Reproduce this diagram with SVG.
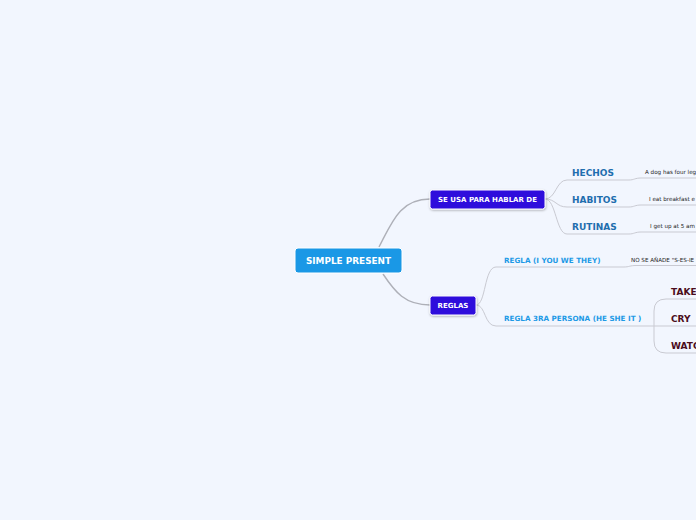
<svg xmlns="http://www.w3.org/2000/svg" width="696" height="520" viewBox="0 0 696 520">
<defs>
<filter id="sh" x="-20%" y="-30%" width="140%" height="170%">
<feDropShadow dx="0.5" dy="1" stdDeviation="0.8" flood-color="#000" flood-opacity="0.3"/>
</filter>
<style>
text{font-family:"DejaVu Sans",Verdana,sans-serif;font-weight:bold}
.main{stroke:#aeb0b8;stroke-width:1.4;fill:none}
.sub{stroke:#c9cad2;stroke-width:1;fill:none}
.node{fill:#2f0bdc;stroke:#ffffff;stroke-width:1;filter:url(#sh)}
.nt{fill:#ffffff;font-size:7px;text-anchor:middle}
.l1{fill:#1f6eae;font-size:9px}
.l2{fill:#1e9ae6;font-size:7.2px}
.l3{fill:#4b0d1c;font-size:9px}
.leaf{fill:#222;font-size:5.6px;font-weight:normal}
</style>
</defs>
<rect width="696" height="520" fill="#f2f6fe"/>
<g id="connectors">
<path class="main" d="M379,247 C392,222 400,199 430,199"/>
<path class="main" d="M383,274 C395,292 405,305 430,305"/>
<path class="sub" d="M545,199 C556,199 556,180 567,180 L629,180 C634,180 635,178 641,178 L696,178"/>
<path class="sub" d="M545,199 C556,199 556,207 567,207 L629,207 C634,207 635,205 641,205 L696,205"/>
<path class="sub" d="M545,199 C556,199 556,234 567,234 L629,234 C634,234 635,232 641,232 L696,232"/>
<path class="sub" d="M476,305 C486,305 484,267 496,267 L624,267 C629,267 630,265.5 636,265.5 L696,265.5"/>
<path class="sub" d="M476,305 C486,305 484,326 496,326 L654,326"/>
<path class="sub" d="M654,326 L654,311 Q654,299 666,299 L696,299"/>
<path class="sub" d="M654,326 L696,326"/>
<path class="sub" d="M654,326 L654,341 Q654,353 666,353 L696,353"/>
</g>
<g id="root">
<rect x="295" y="248" width="107" height="25" rx="3" fill="#1a98e6" stroke="#ffffff" stroke-width="1"/>
<text x="348.5" y="264" fill="#ffffff" font-size="8.9" text-anchor="middle">SIMPLE PRESENT</text>
</g>
<g id="se-usa">
<rect class="node" x="430" y="190" width="115" height="19" rx="2.5"/>
<text class="nt" x="487.5" y="202">SE USA PARA HABLAR DE</text>
</g>
<g id="reglas">
<rect class="node" x="430" y="296" width="46" height="19" rx="2.5"/>
<text class="nt" x="453" y="308">REGLAS</text>
</g>
<g id="hechos"><text class="l1" x="572" y="176">HECHOS</text></g>
<g id="habitos"><text class="l1" x="572" y="203">HABITOS</text></g>
<g id="rutinas"><text class="l1" x="572" y="230">RUTINAS</text></g>
<g id="leaf-hechos"><text class="leaf" x="645" y="174">A dog has four leg</text></g>
<g id="leaf-habitos"><text class="leaf" x="649" y="201">I  eat breakfast e</text></g>
<g id="leaf-rutinas"><text class="leaf" x="650" y="228">I get up at 5 am</text></g>
<g id="regla1"><text class="l2" x="504" y="263">REGLA (I YOU WE THEY)</text></g>
<g id="leaf-regla1"><text class="leaf" x="631" y="262">NO SE AÑADE "S-ES-IE</text></g>
<g id="regla2"><text class="l2" x="504" y="321">REGLA 3RA PERSONA (HE SHE IT )</text></g>
<g id="take"><text class="l3" x="671" y="295">TAKE</text></g>
<g id="cry"><text class="l3" x="671" y="322">CRY</text></g>
<g id="watc"><text class="l3" x="671" y="349">WATC</text></g>
</svg>
